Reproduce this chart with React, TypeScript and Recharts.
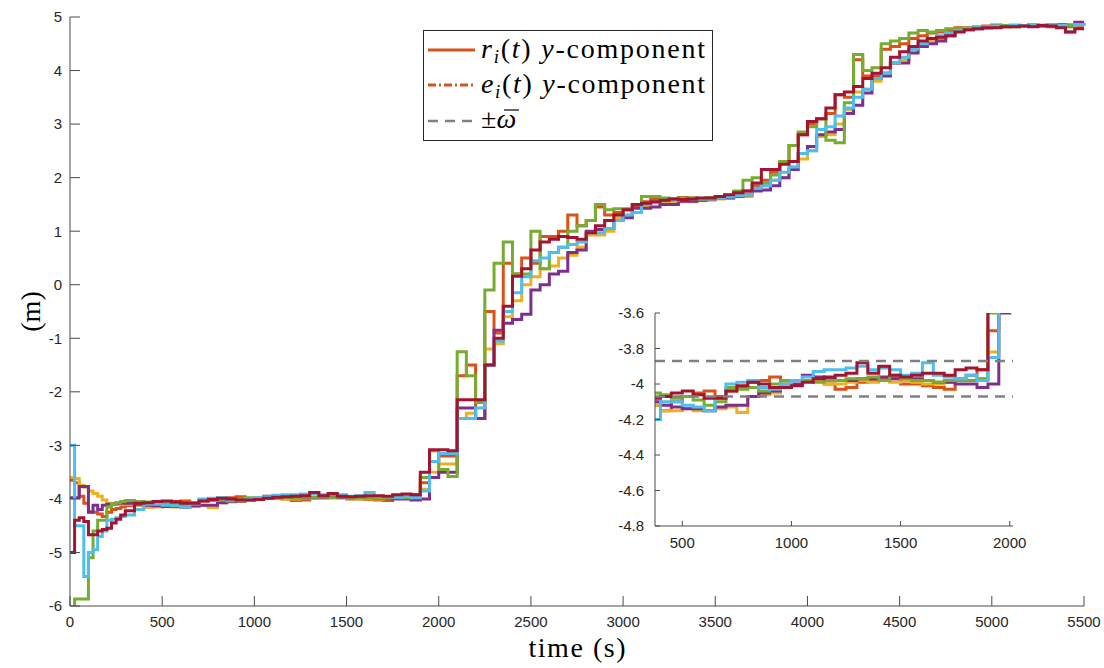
import React from "react";
import { LineChart, Line, XAxis, YAxis, Legend, ReferenceLine } from "recharts";

// time grid of the stairs plots (s): finer at the start, 50 s afterwards
const TIMES = [
  0, 25, 50, 75, 100, 125, 150, 175, 200, 225, 250, 275, 300,
  ...Array.from({ length: 104 }, (_, i) => 350 + i * 50),
];

// y-component of r_i(t) for the six agents (m), one line per 500 s
const AGENT_ORANGE = [
  -3.65, -3.7, -3.95, -4.08, -4.24, -4.25, -4.28, -4.33, -4.25, -4.2, -4.18, -4.15, -4.13,
  -4.12, -4.15, -4.1, -4.07, -4.05, -4.04, -4.07, -4.04, -4.02, -3.99,
  -3.98, -3.96, -4.0, -3.98, -3.98, -3.98, -4.0, -4.03, -4.02, -3.99,
  -3.98, -3.97, -3.97, -4.0, -4.0, -4.01, -4.02, -4.03, -3.97, -3.95,
  -3.92, -3.7, -3.3, -3.2, -3.2, -1.7, -1.5, -2.5, -0.5, -0.9,
  0.4, 0.2, 0.5, 0.4, 0.9, 0.9, 1.0, 1.3, 1.1, 1.2,
  1.45, 1.3, 1.35, 1.4, 1.48, 1.55, 1.6, 1.58, 1.6, 1.63,
  1.62, 1.6, 1.62, 1.65, 1.66, 1.7, 1.75, 1.85, 1.95, 2.1,
  2.3, 2.6, 2.8, 3.0, 3.1, 3.2, 3.55, 3.5, 4.2, 3.9,
  3.9, 4.4, 4.45, 4.5, 4.6, 4.65, 4.7, 4.72, 4.75, 4.8,
  4.8, 4.8, 4.83, 4.85, 4.82, 4.84, 4.83, 4.85, 4.84, 4.82,
  4.84, 4.82, 4.8, 4.8,
];

const AGENT_YELLOW = [
  -3.6, -3.62, -3.75, -3.78, -3.85, -3.9, -3.95, -4.02, -4.08, -4.08, -4.1, -4.1, -4.1,
  -4.12, -4.15, -4.15, -4.14, -4.15, -4.15, -4.14, -4.13, -4.16, -4.07,
  -4.06, -4.05, -4.0, -3.98, -3.98, -3.98, -4.0, -4.0, -3.99, -3.98,
  -3.99, -3.98, -3.99, -3.98, -3.99, -4.0, -4.0, -3.99, -3.98, -3.98,
  -3.97, -3.82, -3.5, -3.35, -3.35, -2.5, -2.4, -2.5, -1.2, -1.1,
  -0.6, -0.3, 0.0, 0.15, 0.3, 0.35, 0.5, 0.55, 0.7, 0.93,
  0.93, 1.0, 1.25, 1.28, 1.35, 1.45, 1.53, 1.53, 1.53, 1.55,
  1.55, 1.57, 1.58, 1.6, 1.62, 1.65, 1.65, 1.78, 1.85, 1.95,
  2.0, 2.2, 2.35, 2.5, 2.77, 2.8, 3.0, 3.27, 3.6, 3.65,
  3.8, 3.96, 4.14, 4.2, 4.39, 4.45, 4.55, 4.6, 4.68, 4.75,
  4.77, 4.8, 4.8, 4.81, 4.83, 4.84, 4.83, 4.85, 4.85, 4.84,
  4.85, 4.84, 4.86, 4.85,
];

const AGENT_PURPLE = [
  -3.98, -3.98, -3.77, -3.77, -4.25, -4.12, -4.2, -4.12, -4.1, -4.1, -4.08, -4.08, -4.08,
  -4.1, -4.12, -4.13, -4.14, -4.14, -4.15, -4.13, -4.12, -4.12, -4.07,
  -4.05, -4.04, -4.02, -4.0, -3.95, -3.96, -3.97, -3.98, -3.98, -3.97,
  -3.97, -3.96, -3.97, -3.96, -3.97, -3.98, -3.99, -3.99, -4.0, -4.0,
  -4.02, -4.0, -3.6, -3.5, -3.5, -2.3, -2.3, -2.5, -1.5, -0.85,
  -0.72, -0.65, -0.55, -0.1, 0.0, 0.2, 0.25, 0.6, 0.65, 1.0,
  1.03, 1.05, 1.2, 1.25, 1.43, 1.43, 1.45, 1.5, 1.5, 1.56,
  1.56, 1.58, 1.6, 1.62, 1.62, 1.65, 1.68, 1.75, 1.77, 1.85,
  2.0, 2.15, 2.45, 2.58, 2.8, 2.85, 2.9, 3.2, 3.35, 3.58,
  3.85, 3.9, 4.14, 4.14, 4.33, 4.45, 4.5, 4.55, 4.65, 4.75,
  4.76, 4.78, 4.8, 4.82, 4.83, 4.83, 4.84, 4.84, 4.83, 4.85,
  4.86, 4.85, 4.9, 4.9,
];

const AGENT_GREEN = [
  -6.3, -5.87, -5.87, -5.87, -5.1, -4.6, -4.4, -4.4, -4.15, -4.1, -4.07, -4.05, -4.03,
  -4.05, -4.06, -4.08, -4.07, -4.09, -4.12, -4.1, -4.02, -4.03, -4.02,
  -4.04, -4.0, -3.98, -3.98, -3.98, -3.99, -3.98, -3.98, -3.97, -3.97,
  -3.96, -3.98, -3.95, -3.97, -3.98, -3.98, -3.99, -3.98, -3.98, -3.98,
  -3.97, -3.6, -3.1, -3.45, -3.58, -1.25, -1.7, -2.2, -0.1, 0.4,
  0.8, 0.2, 0.2, 1.0, 0.3, 0.6, 0.7, 1.0, 1.1, 1.2,
  1.5, 1.4, 1.42, 1.42, 1.5, 1.65, 1.65, 1.62, 1.6, 1.62,
  1.62, 1.6, 1.63, 1.65, 1.67, 1.75, 1.95, 2.0, 1.9, 2.05,
  2.3, 2.6, 2.85, 2.95, 3.1, 2.7, 2.65, 3.4, 4.3, 4.0,
  4.05, 4.5, 4.55, 4.6, 4.7, 4.75, 4.72, 4.75, 4.78, 4.78,
  4.8, 4.82, 4.8, 4.83, 4.84, 4.82, 4.84, 4.85, 4.83, 4.84,
  4.85, 4.84, 4.86, 4.85,
];

const AGENT_BLUE = [
  -3.0, -4.5, -4.5, -5.45, -5.0, -4.95, -4.7, -4.6, -4.4, -4.38, -4.35, -4.33, -4.3,
  -4.2, -4.1, -4.1, -4.12, -4.13, -4.15, -4.08, -4.0, -3.99, -3.98,
  -4.02, -4.03, -4.0, -3.98, -3.96, -3.93, -3.92, -3.92, -3.91, -3.9,
  -3.92, -3.91, -3.92, -3.95, -3.94, -3.88, -3.95, -3.96, -3.97, -3.95,
  -3.98, -3.85, -3.3, -3.15, -3.15, -2.5, -2.5, -2.3, -1.5, -1.05,
  -0.5, -0.15, 0.15, 0.45, 0.5, 0.6, 0.7, 0.75, 0.8, 0.97,
  0.97, 1.05, 1.2, 1.3, 1.35, 1.5, 1.55, 1.57, 1.58, 1.6,
  1.6, 1.6, 1.6, 1.62, 1.64, 1.66, 1.68, 1.8, 1.85, 1.95,
  2.1, 2.2, 2.45, 2.5, 2.9, 2.95, 3.15, 3.3, 3.5, 3.65,
  3.85, 3.95, 4.15, 4.25, 4.4, 4.5, 4.6, 4.65, 4.7, 4.75,
  4.78, 4.8, 4.82, 4.83, 4.82, 4.85, 4.84, 4.85, 4.84, 4.86,
  4.84, 4.72, 4.86, 4.88,
];

const AGENT_RED = [
  -5.0, -4.4, -4.35, -4.42, -4.67, -4.67, -4.6, -4.57, -4.55, -4.45, -4.38, -4.3, -4.22,
  -4.08, -4.07, -4.05, -4.04, -4.06, -4.08, -4.08, -4.04, -4.01, -3.99,
  -4.0, -4.02, -4.02, -4.01, -3.99, -3.97, -3.96, -3.95, -3.94, -3.88,
  -3.94, -3.9, -3.95, -3.96, -3.95, -3.94, -3.94, -3.95, -3.92, -3.91,
  -3.92, -3.5, -3.08, -3.08, -3.1, -2.15, -2.15, -2.15, -1.5, -1.0,
  -0.4, 0.16, 0.3, 0.65, 0.8, 0.85, 0.9, 0.88, 0.85, 0.97,
  1.1, 1.2, 1.3, 1.4, 1.5, 1.52, 1.55, 1.58, 1.6, 1.59,
  1.6, 1.62, 1.62, 1.65, 1.68, 1.72, 1.75, 1.9, 2.15, 2.15,
  2.25, 2.3, 2.8, 3.05, 3.1, 3.3, 3.55, 3.6, 3.7, 3.85,
  3.95, 4.05, 4.25, 4.35, 4.45, 4.55, 4.6, 4.62, 4.65, 4.72,
  4.76, 4.78, 4.8, 4.8, 4.82, 4.82, 4.83, 4.82, 4.84, 4.83,
  4.8, 4.72, 4.78, 4.78,
];

// bounds +/- omega bar drawn in the zoomed view
const OMEGA_BOUNDS = [-3.87, -4.07];

const X_TICKS = [0, 500, 1000, 1500, 2000, 2500, 3000, 3500, 4000, 4500, 5000, 5500];
const Y_TICKS = [-6, -5, -4, -3, -2, -1, 0, 1, 2, 3, 4, 5];
const INSET_X_TICKS = [500, 1000, 1500, 2000];
const INSET_Y_TICKS = [-4.8, -4.6, -4.4, -4.2, -4, -3.8, -3.6];

const SERIES = [
  { key: "orange", color: "#D95319", values: AGENT_ORANGE },
  { key: "yellow", color: "#EDB120", values: AGENT_YELLOW },
  { key: "purple", color: "#7E2F8E", values: AGENT_PURPLE },
  { key: "green", color: "#77AC30", values: AGENT_GREEN },
  { key: "blue", color: "#4DBEEE", values: AGENT_BLUE },
  { key: "red", color: "#A2142F", values: AGENT_RED },
];

const rows = TIMES.map((t, i) => {
  const row: Record<string, number> = { t };
  SERIES.forEach((s) => (row[s.key] = s.values[i]));
  return row;
});

const AXIS = "#4a4a4a";
const TEXT = "#262626";
const SANS = "'Liberation Sans', Arial, sans-serif";
const SERIF = "'Liberation Serif', 'Times New Roman', serif";

// matlab style ticks: they point into the plot
function yTick(gap: number, len: number) {
  return (props: any) => {
    const { x, y, payload } = props;
    return (
      <g>
        <line x1={x + gap} x2={x + gap + len} y1={y} y2={y} stroke={AXIS} />
        <text x={x} y={y} dy="0.355em" textAnchor="end" fontSize={15} fontFamily={SANS} fill={TEXT}>
          {String(payload.value)}
        </text>
      </g>
    );
  };
}

function xTick(gap: number, len: number) {
  return (props: any) => {
    const { x, y, payload } = props;
    return (
      <g>
        <line x1={x} x2={x} y1={y - gap} y2={y - gap - len} stroke={AXIS} />
        <text x={x} y={y} dy="0.71em" textAnchor="middle" fontSize={15} fontFamily={SANS} fill={TEXT}>
          {String(payload.value)}
        </text>
      </g>
    );
  };
}

function LegendBox() {
  return (
    <svg width={290} height={111} style={{ display: "block" }}>
      <rect x={0.5} y={0.5} width={289} height={110} fill="#fff" stroke={TEXT} />
      <line x1={5} x2={52} y1={20} y2={20} stroke="#D95319" strokeWidth={3} />
      <text x={58} y={28} fontSize={28} fontFamily={SERIF} fill="#000" textLength={224} lengthAdjust="spacing">
        <tspan fontStyle="italic">r</tspan>
        <tspan fontStyle="italic" fontSize={19} dy={5}>i</tspan>
        <tspan dy={-5}>(</tspan>
        <tspan fontStyle="italic">t</tspan>
        <tspan>)</tspan>
        <tspan dx={9} fontStyle="italic">y</tspan>
        <tspan>-component</tspan>
      </text>
      <line x1={5} x2={52} y1={55} y2={55} stroke="#D95319" strokeWidth={3} strokeDasharray="8 3 2 3" />
      <text x={58} y={63} fontSize={28} fontFamily={SERIF} fill="#000" textLength={224} lengthAdjust="spacing">
        <tspan fontStyle="italic">e</tspan>
        <tspan fontStyle="italic" fontSize={19} dy={5}>i</tspan>
        <tspan dy={-5}>(</tspan>
        <tspan fontStyle="italic">t</tspan>
        <tspan>)</tspan>
        <tspan dx={9} fontStyle="italic">y</tspan>
        <tspan>-component</tspan>
      </text>
      <line x1={5} x2={52} y1={91} y2={91} stroke="#808080" strokeWidth={2.5} strokeDasharray="10 7" />
      <text x={58} y={98} fontSize={28} fontFamily={SERIF} fill="#000">
        <tspan>±</tspan>
        <tspan fontStyle="italic">ω</tspan>
      </text>
      <line x1={81} x2={96} y1={80} y2={80} stroke="#000" strokeWidth={1.2} />
    </svg>
  );
}

function YLabel(props: any) {
  const { x, y, height } = props.viewBox;
  const cx = x + 20;
  const cy = y + height / 2;
  return (
    <text x={cx} y={cy} transform={`rotate(-90 ${cx} ${cy})`} textAnchor="middle" dy="0.35em" fontSize={28} fontFamily={SERIF} fill="#000">
      (m)
    </text>
  );
}

function XLabel(props: any) {
  const { x, y, width } = props.viewBox;
  return (
    <text x={x + width / 2} y={y + 51} textAnchor="middle" fontSize={28} fontFamily={SERIF} fill="#000" textLength={97} lengthAdjust="spacing">
      time (s)
    </text>
  );
}

function Inset() {
  return (
    <div style={{ position: "absolute", left: 590, top: 300 }}>
      <LineChart width={440} height={260} data={rows} margin={{ top: 13, right: 17, bottom: 4, left: 0 }}>
        <XAxis
          dataKey="t"
          type="number"
          domain={[375, 2015]}
          allowDataOverflow
          ticks={INSET_X_TICKS}
          interval={0}
          height={30}
          tickSize={0}
          tickMargin={11}
          tickLine={false}
          axisLine={{ stroke: AXIS }}
          tick={xTick(11, 5)}
        />
        <YAxis
          type="number"
          domain={[-4.8, -3.6]}
          allowDataOverflow
          ticks={INSET_Y_TICKS}
          interval={0}
          width={65}
          tickSize={0}
          tickMargin={11}
          tickLine={false}
          axisLine={{ stroke: AXIS }}
          tick={yTick(11, 5)}
        />
        {SERIES.map((s) => (
          <Line
            key={s.key}
            dataKey={s.key}
            type="stepAfter"
            stroke={s.color}
            strokeWidth={3}
            dot={false}
            isAnimationActive={false}
          />
        ))}
        {OMEGA_BOUNDS.map((b) => (
          <ReferenceLine key={b} y={b} stroke="#808080" strokeWidth={2.5} strokeDasharray="10 7" />
        ))}
      </LineChart>
    </div>
  );
}

export default function App() {
  return (
    <div style={{ position: "absolute", left: 0, top: 0, width: 1104, height: 668, background: "#fff" }}>
      <LineChart width={1104} height={668} data={rows} margin={{ top: 17, right: 20, bottom: 32, left: 10 }}>
        <XAxis
          dataKey="t"
          type="number"
          domain={[0, 5500]}
          ticks={X_TICKS}
          interval={0}
          height={30}
          tickSize={0}
          tickMargin={10}
          tickLine={false}
          axisLine={{ stroke: AXIS }}
          tick={xTick(10, 10)}
          label={XLabel}
        />
        <YAxis
          type="number"
          domain={[-6, 5]}
          allowDataOverflow
          ticks={Y_TICKS}
          interval={0}
          width={60}
          tickSize={0}
          tickMargin={8}
          tickLine={false}
          axisLine={{ stroke: AXIS }}
          tick={yTick(8, 10)}
          label={YLabel}
        />
        {SERIES.map((s) => (
          <Line
            key={s.key}
            dataKey={s.key}
            type="stepAfter"
            stroke={s.color}
            strokeWidth={3}
            dot={false}
            isAnimationActive={false}
          />
        ))}
        <Legend
          layout="vertical"
          align="center"
          verticalAlign="middle"
          wrapperStyle={{ left: 423, top: 30, width: 290, height: 111 }}
          content={LegendBox}
        />
      </LineChart>
      <Inset />
    </div>
  );
}
